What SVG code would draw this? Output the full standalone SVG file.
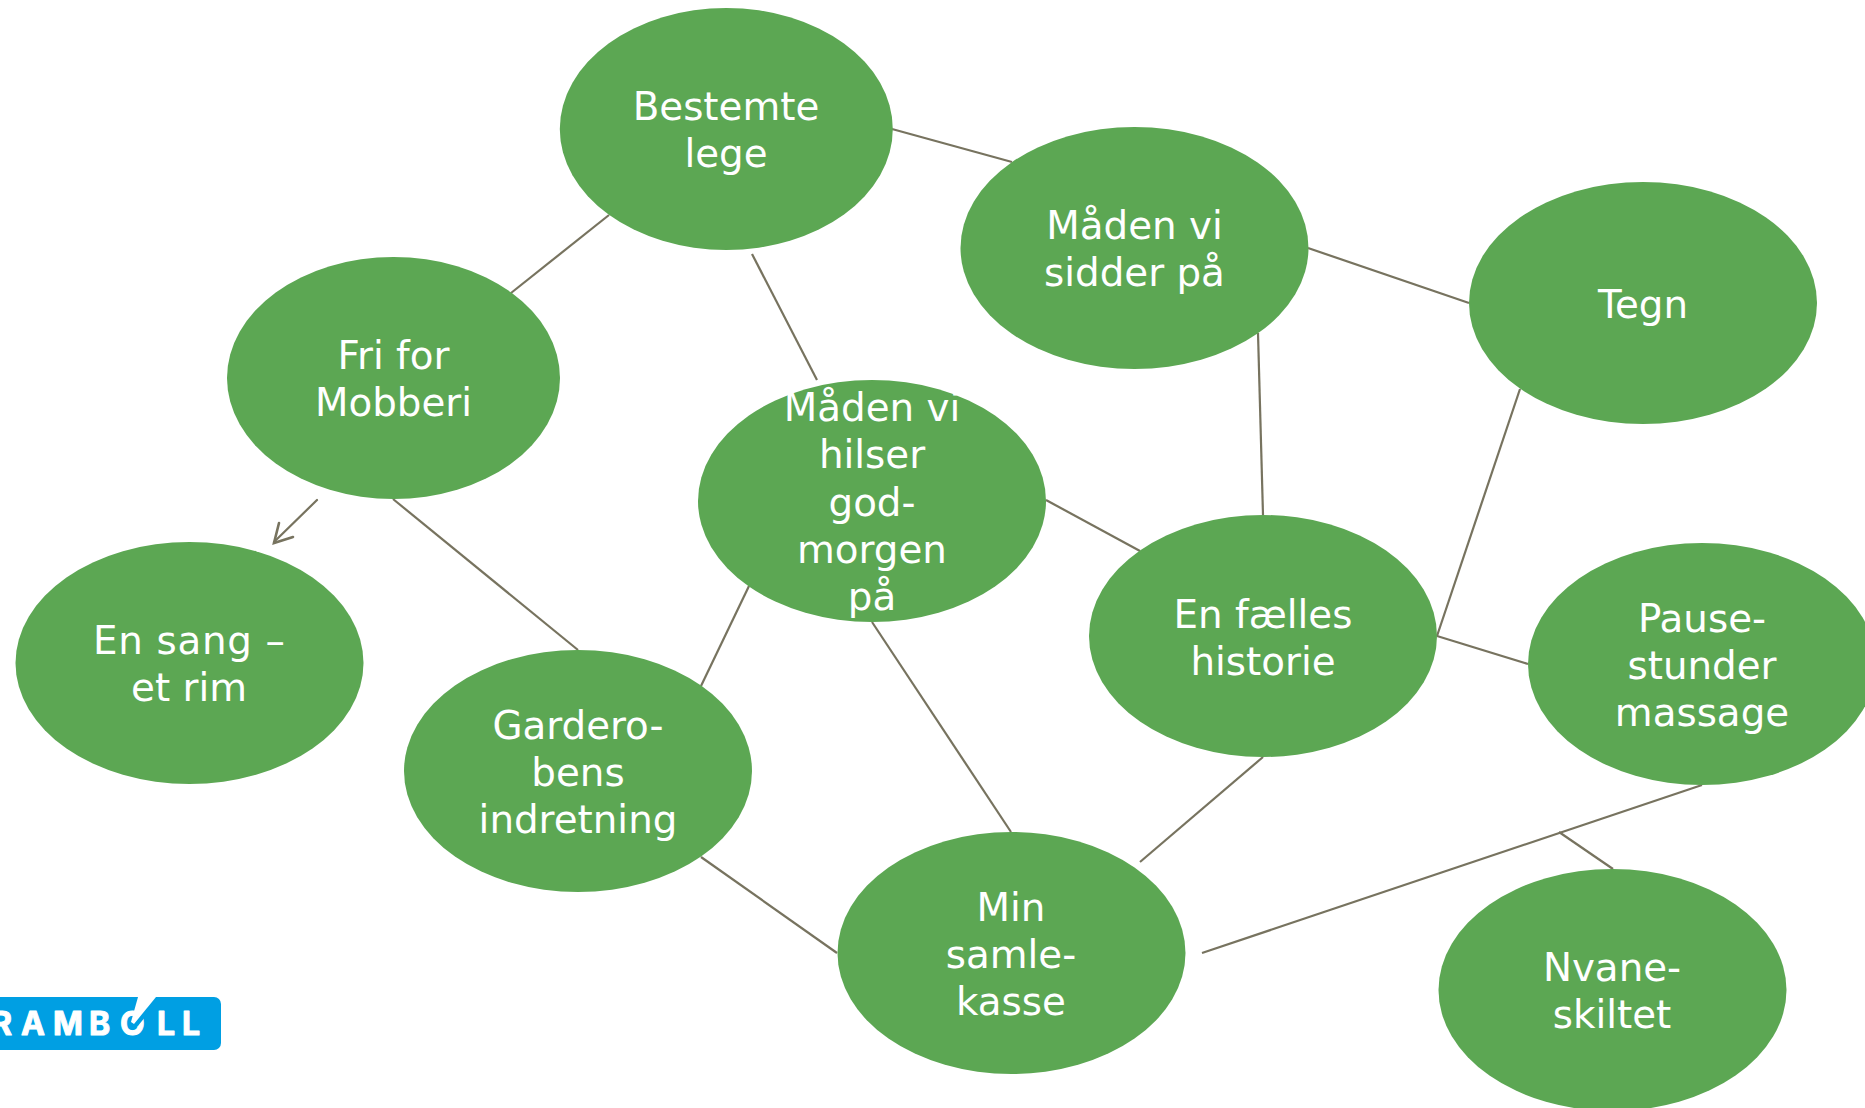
<svg xmlns="http://www.w3.org/2000/svg" width="1865" height="1108" viewBox="0 0 1865 1108">
<style>
.n{fill:#5ca753}
.t{font-family:"DejaVu Sans",Verdana,sans-serif;font-size:38.800px;fill:#fff;text-anchor:middle}
.c line{stroke:#77735f;stroke-width:2.2;fill:none}
</style>
<rect width="1865" height="1108" fill="#fff"/>
<g class="c" id="connectors">
<line x1="892" y1="129" x2="1012" y2="162"/>
<line x1="609" y1="215" x2="511" y2="293"/>
<line x1="752" y1="254" x2="817" y2="380"/>
<line x1="1308" y1="248" x2="1469" y2="303"/>
<line x1="1258" y1="333" x2="1263" y2="515"/>
<line x1="1046" y1="500" x2="1140" y2="551"/>
<line x1="1520" y1="389" x2="1437" y2="636"/>
<line x1="1437" y1="636" x2="1528" y2="664"/>
<line x1="393" y1="499" x2="578" y2="650"/>
<line x1="749" y1="586" x2="701" y2="686"/>
<line x1="872" y1="622" x2="1011" y2="832"/>
<line x1="701" y1="857" x2="837" y2="953"/>
<line x1="1263" y1="757" x2="1140" y2="862"/>
<line x1="1202" y1="953" x2="1702" y2="785"/>
<line x1="1559" y1="832" x2="1613" y2="869"/>
<line x1="317" y1="500" x2="274" y2="542" stroke-linecap="round" stroke-width="2.6"/>
<path d="M279 523L274 543L293 537" fill="none" stroke="#77735f" stroke-width="2.6" stroke-linecap="round"/>
</g>
<g id="bestemte"><ellipse class="n" cx="726.300" cy="129" rx="166.500" ry="121"/><text class="t" x="726" y="120">Bestemte</text><text class="t" x="726" y="167">lege</text></g>
<g id="siddepaa"><ellipse class="n" cx="1134.500" cy="248" rx="174" ry="121"/><text class="t" x="1134.500" y="239">Måden vi</text><text class="t" x="1134.500" y="286">sidder på</text></g>
<g id="tegn"><ellipse class="n" cx="1643" cy="303" rx="174" ry="121"/><text class="t" x="1643" y="318">Tegn</text></g>
<g id="frifor"><ellipse class="n" cx="393.500" cy="378" rx="166.500" ry="121"/><text class="t" x="393.500" y="369">Fri for</text><text class="t" x="393.500" y="416">Mobberi</text></g>
<g id="hilser"><ellipse class="n" cx="872" cy="501" rx="174" ry="121"/><text class="t" x="872" y="421">Måden vi</text><text class="t" x="872" y="468">hilser</text><text class="t" x="872" y="516">god-</text><text class="t" x="872" y="563">morgen</text><text class="t" x="872" y="610">på</text></g>
<g id="faelles"><ellipse class="n" cx="1263" cy="636" rx="174" ry="121"/><text class="t" x="1263" y="628">En fælles</text><text class="t" x="1263" y="675">historie</text></g>
<g id="pause"><ellipse class="n" cx="1702" cy="664" rx="174" ry="121"/><text class="t" x="1702" y="632">Pause-</text><text class="t" x="1702" y="679">stunder</text><text class="t" x="1702" y="726">massage</text></g>
<g id="sang"><ellipse class="n" cx="189.500" cy="663" rx="174" ry="121"/><text class="t" x="189" y="654" textLength="192" lengthAdjust="spacing">En sang –</text><text class="t" x="189" y="701">et rim</text></g>
<g id="garderobe"><ellipse class="n" cx="578" cy="771" rx="174" ry="121"/><text class="t" x="578" y="739">Gardero-</text><text class="t" x="578" y="786">bens</text><text class="t" x="578" y="833">indretning</text></g>
<g id="samlekasse"><ellipse class="n" cx="1011.500" cy="953" rx="174" ry="121"/><text class="t" x="1011" y="921">Min</text><text class="t" x="1011" y="968">samle-</text><text class="t" x="1011" y="1015">kasse</text></g>
<g id="nvane"><ellipse class="n" cx="1612.500" cy="990" rx="174" ry="121"/><text class="t" x="1612" y="981">Nvane-</text><text class="t" x="1612" y="1028">skiltet</text></g>
<g id="logo">
<rect x="-20" y="997" width="241" height="53" rx="7" fill="#009fe3"/>
<text x="-9 21 53 89 120 157 182" y="1035" font-family="Inter,'Liberation Sans',sans-serif" font-weight="700" font-size="32" fill="#fff" stroke="#fff" stroke-width="1" stroke-linejoin="round">RAMBOLL</text>
<path d="M135 1024L152 1003" stroke="#009fe3" stroke-width="7" fill="none"/>
<path d="M138 997L156 997L134 1024L131 1022Z" fill="#fff"/>
</g>
</svg>
